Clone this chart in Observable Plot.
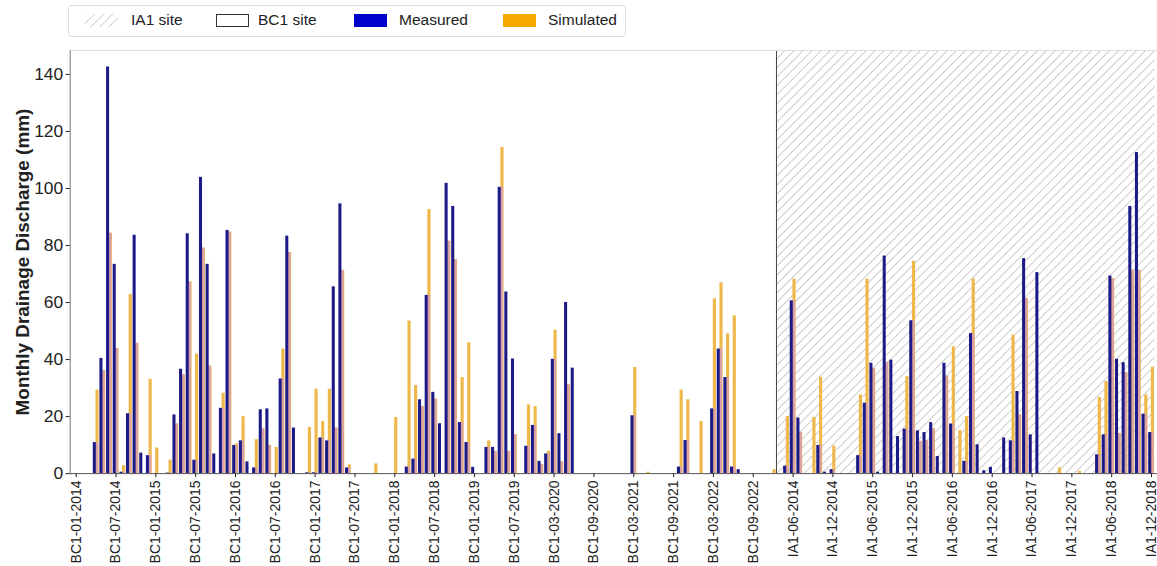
<!DOCTYPE html>
<html><head><meta charset="utf-8">
<script src="https://cdn.jsdelivr.net/npm/d3@7"></script>
<script src="https://cdn.jsdelivr.net/npm/@observablehq/plot@0.6"></script>
<style>
html,body{margin:0;padding:0;background:#fff;overflow:hidden;width:1157px;height:566px}
#legend{position:relative;height:42px;font-family:"Liberation Sans",Arial,sans-serif;font-size:15.5px;color:#222}
#legend .box{position:absolute;left:68px;top:5px;width:558px;height:32px;border:1px solid #ddd;border-radius:3px;box-sizing:border-box}
#legend .sw{position:absolute;top:14px;width:33px;height:13px;box-sizing:border-box}
#legend span{position:absolute;top:12px;line-height:16px;white-space:nowrap}
#chart svg [aria-label="y-axis label"] text{font-weight:bold;font-size:19px}
</style></head><body>
<div id="legend">
  <div class="box"></div>
  <svg class="sw" style="left:85px" width="33" height="13"><defs><pattern id="hatchL" patternUnits="userSpaceOnUse" width="6.4" height="6.4" patternTransform="rotate(45)"><line x1="0" y1="0" x2="0" y2="6.4" stroke="#bcbcbc" stroke-width="1.3"/></pattern></defs><rect width="33" height="13" fill="url(#hatchL)"/></svg>
  <span style="left:131px">IA1 site</span>
  <div class="sw" style="left:216px;border:1px solid #333;background:#fff"></div>
  <span style="left:258px">BC1 site</span>
  <div class="sw" style="left:354px;background:#0000cc"></div>
  <span style="left:399px">Measured</span>
  <div class="sw" style="left:503px;background:#f5a800"></div>
  <span style="left:548px">Simulated</span>
</div>
<div id="chart"></div>
<script>
const bcMonths = [
"BC1-01-2014","BC1-02-2014","BC1-03-2014","BC1-04-2014","BC1-05-2014","BC1-06-2014","BC1-07-2014","BC1-08-2014","BC1-09-2014","BC1-10-2014","BC1-11-2014","BC1-12-2014",
"BC1-01-2015","BC1-02-2015","BC1-03-2015","BC1-04-2015","BC1-05-2015","BC1-06-2015","BC1-07-2015","BC1-08-2015","BC1-09-2015","BC1-10-2015","BC1-11-2015","BC1-12-2015",
"BC1-01-2016","BC1-02-2016","BC1-03-2016","BC1-04-2016","BC1-05-2016","BC1-06-2016","BC1-07-2016","BC1-08-2016","BC1-09-2016","BC1-10-2016","BC1-11-2016","BC1-12-2016",
"BC1-01-2017","BC1-02-2017","BC1-03-2017","BC1-04-2017","BC1-05-2017","BC1-06-2017","BC1-07-2017","BC1-08-2017","BC1-09-2017","BC1-10-2017","BC1-11-2017","BC1-12-2017",
"BC1-01-2018","BC1-02-2018","BC1-03-2018","BC1-04-2018","BC1-05-2018","BC1-06-2018","BC1-07-2018","BC1-08-2018","BC1-09-2018","BC1-10-2018","BC1-11-2018","BC1-12-2018",
"BC1-01-2019","BC1-02-2019","BC1-03-2019","BC1-04-2019","BC1-05-2019","BC1-06-2019","BC1-07-2019","BC1-08-2019","BC1-09-2019","BC1-10-2019","BC1-11-2019","BC1-02-2020",
"BC1-03-2020","BC1-04-2020","BC1-05-2020","BC1-06-2020","BC1-07-2020","BC1-08-2020","BC1-09-2020","BC1-10-2020","BC1-11-2020","BC1-12-2020",
"BC1-01-2021","BC1-02-2021","BC1-03-2021","BC1-04-2021","BC1-05-2021","BC1-06-2021","BC1-07-2021","BC1-08-2021","BC1-09-2021","BC1-10-2021","BC1-11-2021","BC1-12-2021",
"BC1-01-2022","BC1-02-2022","BC1-03-2022","BC1-04-2022","BC1-05-2022","BC1-06-2022","BC1-07-2022","BC1-08-2022","BC1-09-2022","BC1-10-2022","BC1-11-2022","BC1-12-2022"];
const iaMonths = [
"IA1-04-2014","IA1-05-2014","IA1-06-2014","IA1-07-2014","IA1-08-2014","IA1-09-2014","IA1-10-2014","IA1-11-2014","IA1-12-2014",
"IA1-01-2015","IA1-02-2015","IA1-03-2015","IA1-04-2015","IA1-05-2015","IA1-06-2015","IA1-07-2015","IA1-08-2015","IA1-09-2015","IA1-10-2015","IA1-11-2015","IA1-12-2015",
"IA1-01-2016","IA1-02-2016","IA1-03-2016","IA1-04-2016","IA1-05-2016","IA1-06-2016","IA1-07-2016","IA1-08-2016","IA1-09-2016","IA1-10-2016","IA1-11-2016","IA1-12-2016",
"IA1-01-2017","IA1-02-2017","IA1-03-2017","IA1-04-2017","IA1-05-2017","IA1-06-2017","IA1-07-2017","IA1-08-2017","IA1-09-2017","IA1-10-2017","IA1-11-2017","IA1-12-2017",
"IA1-01-2018","IA1-02-2018","IA1-03-2018","IA1-04-2018","IA1-05-2018","IA1-06-2018","IA1-07-2018","IA1-08-2018","IA1-09-2018","IA1-10-2018","IA1-11-2018","IA1-12-2018"];

const measured = [
0,0,0,10.9,40.4,142.6,73.4,0.5,21,83.6,7.2,6.3,
0,0,0.2,20.6,36.6,84.1,4.7,103.9,73.4,6.9,22.9,85.3,
9.9,11.5,4.1,2.0,22.4,22.7,0,33.2,83.3,16,0,0.3,
0.3,12.5,11.5,65.5,94.6,2.0,0,0,0,0,0,0,
0,0,2.3,5.1,25.9,62.5,28.5,17.5,101.8,93.7,17.9,10.9,
2.2,0,9.2,9.2,100.4,63.7,40.2,0,9.6,16.9,4.3,6.9,
40.1,14,60,37,0,0,0,0,0,0,
0,0,20.3,0,0,0,0,0,0,2.3,11.6,0,
0,0,22.7,43.7,33.7,2.3,1.4,0,0,0,0,0,
0,2.6,60.6,19.5,0,0,9.9,0.5,1.4,
0,0,0,6.3,24.7,38.7,0.5,76.3,39.8,13,15.6,53.6,
15,14.4,17.9,6,38.7,17.4,0,4.3,49.1,10.1,1,2.2,
0,12.5,11.5,28.8,75.4,13.6,70.5,0,0,0,0,0,
0,0,0,6.6,13.6,69.3,40.1,38.9,93.7,112.6,20.8,14.4];
const simulated = [
0,0,0,29.3,36.1,84.3,43.9,2.8,62.8,45.7,0,33.1,
9,0,4.7,17.4,34.6,67.2,41.9,79.1,37.7,0,28.2,84.7,
10.4,20,0,11.9,15.7,9.9,9.2,43.7,77.5,0,0,16.2,
29.6,18.3,29.6,16,71.3,3.1,0,0,0,3.4,0,0,
19.7,0,53.5,30.9,23.5,92.6,26.1,0,81.5,75,33.7,45.9,
0,0,11.5,7.8,114.4,7.8,13.6,0,24.1,23.5,3.1,7.8,
50.3,4.1,31.1,0,0,0,0,0,0,0,
0,0,37.2,0,0.5,0,0,0,0,29.3,25.9,0,
18.3,0,61.3,66.9,49,55.3,0,0,0,0,0,1.4,
0,20,68.2,14.4,0,19.7,33.8,0,9.6,
0,0,0,27.6,68.2,36.9,0,39,0,0,34,74.5,
11.3,11.6,15.7,0,34.2,44.5,15.1,20,68.3,0,0,0,
0,0,48.6,20.6,61.4,0,0,0,0,2,0,0,
0.8,0,0,26.7,32.3,68.4,14,35.4,71.3,71.3,27.6,37.3];
const yTicks = [0,20,40,60,80,100,120,140];
const yLabel = "Monthly Drainage Discharge (mm)";

const months = bcMonths.concat(iaMonths);
const tickMonths = months.filter((d, i) => i % 6 === 0);
const data = months.map((m, i) => ({month: m, measured: measured[i], simulated: simulated[i], overlap: Math.min(measured[i], simulated[i])}));
const YMAX = 148.4;
const W = 1162;
const step = (W - 70) / (months.length + 0.8);

const chart = Plot.plot({
  width: W, height: 524,
  marginLeft: 70, marginRight: 0, marginTop: 8, marginBottom: 91,
  style: {fontFamily: "'Liberation Sans', Arial, sans-serif", background: "transparent", color: "#222"},
  x: {type: "band", domain: months, paddingInner: 0, paddingOuter: 0.4, round: false},
  y: {domain: [0, YMAX]},
  marks: [
    Plot.barY(iaMonths, {x: d => d, y1: 0, y2: YMAX, fill: "url(#hatch)", inset: 0}),
    Plot.ruleX([iaMonths[0]], {dx: -step / 2, stroke: "#444", strokeWidth: 1}),
    Plot.ruleY([YMAX], {stroke: "#ddd"}),
    Plot.frame({anchor: "left", stroke: "#777"}),
    Plot.barY(data, {x: "month", y: "simulated", fill: "#eeb84a", insetLeft: 3.2, insetRight: 0.3}),
    Plot.barY(data, {x: "month", y: "overlap", fill: "#d9a1a8", insetLeft: 3.6, insetRight: 0.8}),
    Plot.barY(data, {x: "month", y: "measured", fill: "#1c1a88", insetLeft: 0.5, insetRight: 3.1}),
    Plot.ruleY([0], {stroke: "#555"}),
    Plot.axisX({ticks: tickMonths, tickRotate: -90, fontSize: 14, tickSize: 4, tickPadding: 3, label: null}),
    Plot.axisY({ticks: yTicks, fontSize: 17.5, tickSize: 4, tickPadding: 3, label: yLabel, labelAnchor: "center", labelArrow: "none", labelOffset: 55})
  ]
});
const svg = chart.tagName.toLowerCase() === "svg" ? chart : chart.querySelector("svg");
d3.select(svg).insert("defs", ":first-child").html('<pattern id="hatch" patternUnits="userSpaceOnUse" width="6.4" height="6.4" patternTransform="rotate(45)"><line x1="0" y1="0" x2="0" y2="6.4" stroke="#b4b4b4" stroke-width="1.4"/></pattern>');
document.getElementById("chart").appendChild(chart);
</script>
</body></html>
